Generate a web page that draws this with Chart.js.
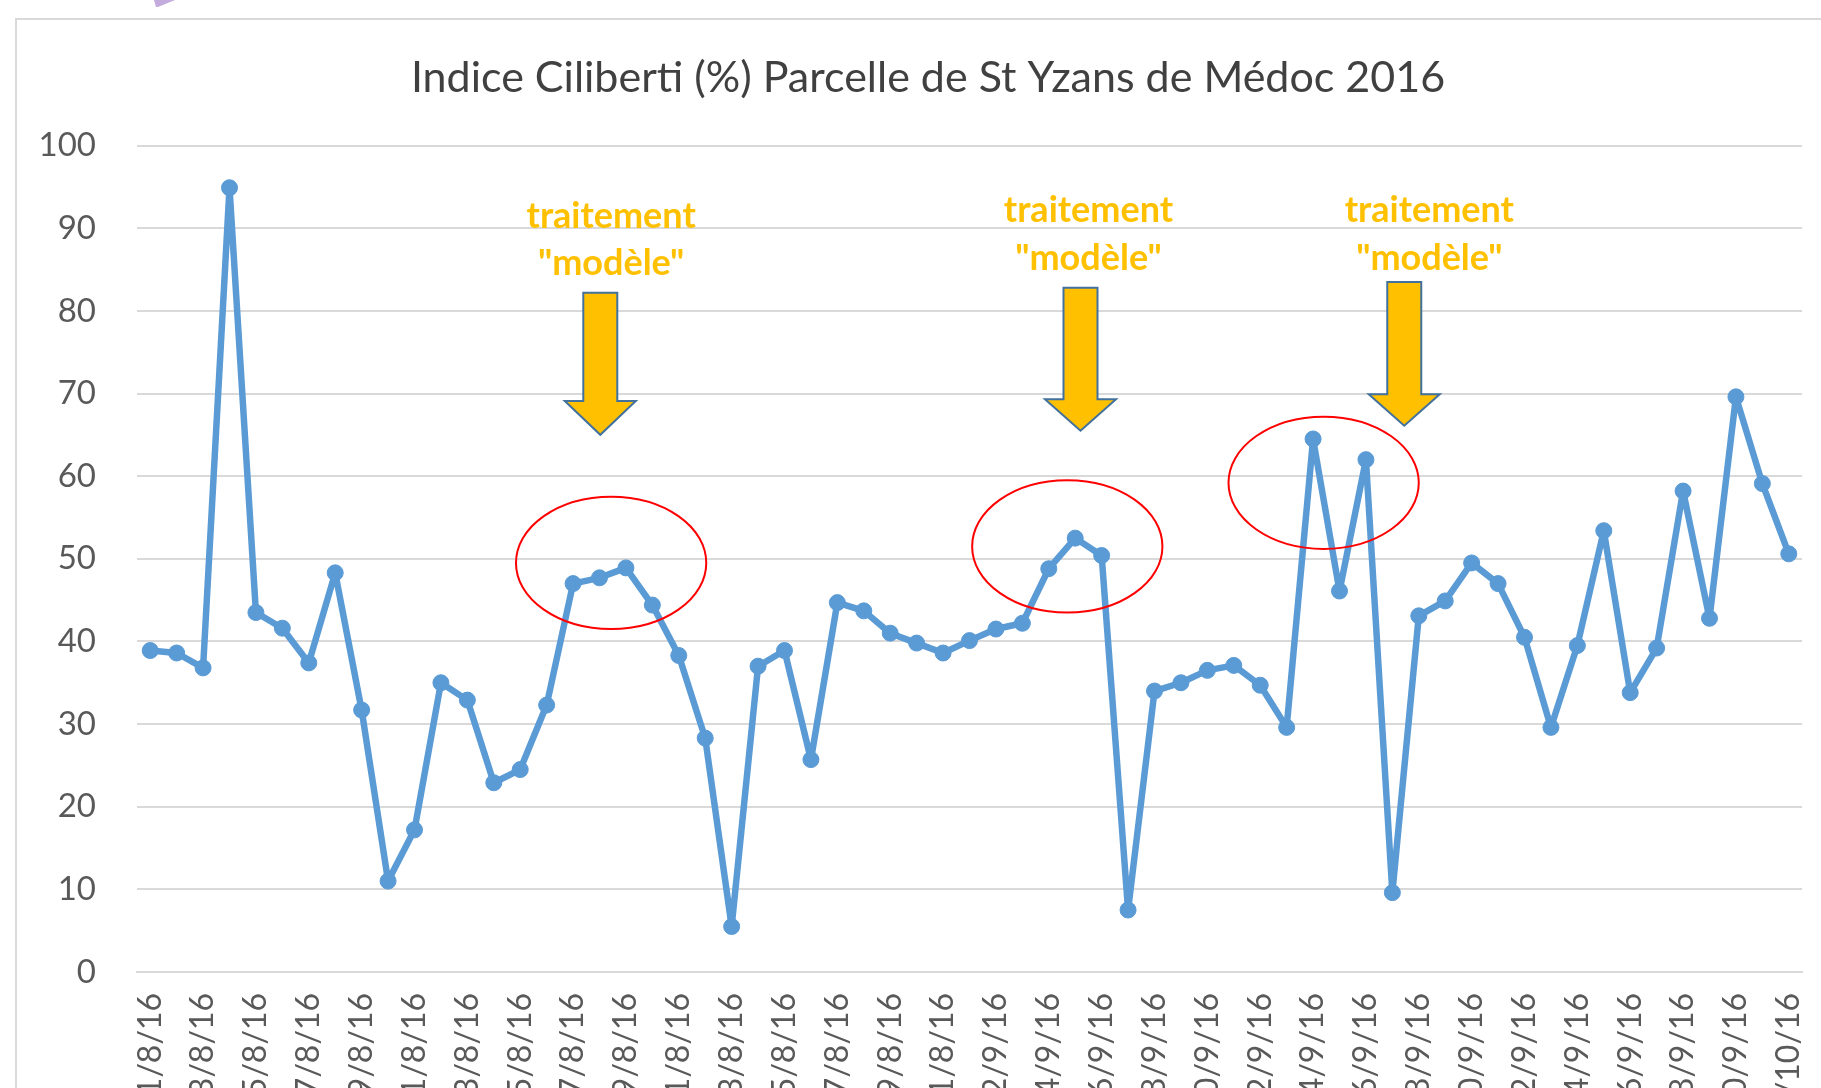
<!DOCTYPE html>
<html>
<head>
<meta charset="utf-8">
<script src="https://cdn.jsdelivr.net/npm/chart.js@4.4.1/dist/chart.umd.min.js"></script>
<style>
  html, body { margin: 0; padding: 0; background: #ffffff; overflow: hidden; }
  #wrap { position: relative; width: 1821px; height: 1088px; }
  canvas { display: block; }
</style>
</head>
<body>
<div id="wrap"><canvas id="c" width="1821" height="1088"></canvas></div>
<script>
// ---- data ----
const title = 'Indice Ciliberti (%) Parcelle de St Yzans de Médoc 2016';
const dates = [
  '1/8/16','2/8/16','3/8/16','4/8/16','5/8/16','6/8/16','7/8/16','8/8/16','9/8/16','10/8/16',
  '11/8/16','12/8/16','13/8/16','14/8/16','15/8/16','16/8/16','17/8/16','18/8/16','19/8/16','20/8/16',
  '21/8/16','22/8/16','23/8/16','24/8/16','25/8/16','26/8/16','27/8/16','28/8/16','29/8/16','30/8/16',
  '31/8/16','1/9/16','2/9/16','3/9/16','4/9/16','5/9/16','6/9/16','7/9/16','8/9/16','9/9/16',
  '10/9/16','11/9/16','12/9/16','13/9/16','14/9/16','15/9/16','16/9/16','17/9/16','18/9/16','19/9/16',
  '20/9/16','21/9/16','22/9/16','23/9/16','24/9/16','25/9/16','26/9/16','27/9/16','28/9/16','29/9/16',
  '30/9/16','1/10/16','2/10/16'
];
const indice = [
  38.9, 38.6, 36.8, 94.9, 43.5, 41.6, 37.4, 48.3, 31.7, 11.0,
  17.2, 35.0, 32.9, 22.9, 24.5, 32.3, 47.0, 47.7, 48.9, 44.4,
  38.3, 28.3, 5.5, 37.0, 38.9, 25.7, 44.7, 43.7, 41.0, 39.8,
  38.6, 40.1, 41.5, 42.2, 48.8, 52.5, 50.4, 7.5, 34.0, 35.0,
  36.5, 37.1, 34.7, 29.6, 64.5, 46.1, 62.0, 9.6, 43.1, 44.9,
  49.5, 47.0, 40.5, 29.6, 39.5, 53.4, 33.8, 39.2, 58.2, 42.8,
  69.6, 59.1, 50.6
];
const yTicks = [0, 10, 20, 30, 40, 50, 60, 70, 80, 90, 100];

// annotations (in data units: category index, value)
const noteLines = ['traitement', '"modèle"'];
const noteX = [17.44, 35.5, 48.4];
const noteY = [90.0, 90.7, 90.7];
const noteY2 = [84.3, 85.0, 85.0];
const arrowX = [17.03, 35.2, 47.45];
const arrowTop = [82.2, 82.8, 83.5];
const arrowHead = [69.1, 69.3, 69.9];
const arrowTip = [65.0, 65.5, 66.1];
const ellX = [17.44, 34.7, 44.4];
const ellY = [49.5, 51.5, 59.2];
const ellRX = [3.6, 3.6, 3.6];   // in category units
const ellRY = [8.0, 8.0, 8.0];   // in value units

const FONT = 'Lato, "Open Sans", sans-serif';

const decor = {
  id: 'decor',
  afterLayout(chart) {
    const tb = chart.titleBlock;
    if (tb) { tb.left += 27; tb.right += 27; }
  },
  beforeDraw(chart) {
    const ctx = chart.ctx;
    ctx.save();
    ctx.fillStyle = '#ffffff';
    ctx.fillRect(0, 0, chart.width, chart.height);
    ctx.strokeStyle = '#d9d9d9';
    ctx.lineWidth = 2;
    ctx.strokeRect(16, 19, 2000, 2000);
    ctx.fillStyle = '#c3abdd';
    ctx.beginPath();
    ctx.moveTo(154, 0); ctx.lineTo(175, 0); ctx.lineTo(158, 7); ctx.lineTo(156, 7);
    ctx.closePath(); ctx.fill();
    ctx.restore();
  },
  afterDatasetsDraw(chart) {
    const ctx = chart.ctx;
    const xs = chart.scales.x, ys = chart.scales.y;
    const unitX = xs.getPixelForValue(1) - xs.getPixelForValue(0);
    const unitY = ys.getPixelForValue(0) - ys.getPixelForValue(1);
    ctx.save();
    // ellipses
    ctx.strokeStyle = '#ff0000';
    ctx.lineWidth = 2;
    for (let i = 0; i < ellX.length; i++) {
      ctx.beginPath();
      ctx.ellipse(xs.getPixelForValue(ellX[i]), ys.getPixelForValue(ellY[i]),
        ellRX[i] * unitX, ellRY[i] * unitY, 0, 0, Math.PI * 2);
      ctx.stroke();
    }
    // arrows
    const shaft = 17, head = 35.5;
    for (let i = 0; i < arrowX.length; i++) {
      const cx = xs.getPixelForValue(arrowX[i]);
      const t = ys.getPixelForValue(arrowTop[i]);
      const h = ys.getPixelForValue(arrowHead[i]);
      const tip = ys.getPixelForValue(arrowTip[i]);
      ctx.beginPath();
      ctx.moveTo(cx - shaft, t);
      ctx.lineTo(cx + shaft, t);
      ctx.lineTo(cx + shaft, h);
      ctx.lineTo(cx + head, h);
      ctx.lineTo(cx, tip);
      ctx.lineTo(cx - head, h);
      ctx.lineTo(cx - shaft, h);
      ctx.closePath();
      ctx.fillStyle = '#ffc000';
      ctx.fill();
      ctx.strokeStyle = '#41719c';
      ctx.lineWidth = 2;
      ctx.stroke();
    }
    // labels
    ctx.fillStyle = '#ffc000';
    ctx.font = 'bold 36px ' + FONT;
    ctx.textAlign = 'center';
    ctx.textBaseline = 'alphabetic';
    for (let i = 0; i < noteX.length; i++) {
      const x = xs.getPixelForValue(noteX[i]);
      ctx.fillText(noteLines[0], x, ys.getPixelForValue(noteY[i]));
      ctx.fillText(noteLines[1], x, ys.getPixelForValue(noteY2[i]));
    }
    ctx.restore();
  }
};

new Chart(document.getElementById('c'), {
  type: 'line',
  data: {
    labels: dates,
    datasets: [{
      data: indice,
      borderColor: '#5b9bd5',
      backgroundColor: '#5b9bd5',
      pointBackgroundColor: '#5b9bd5',
      pointBorderColor: '#5b9bd5',
      borderWidth: 6.5,
      borderJoinStyle: 'round',
      borderCapStyle: 'round',
      pointRadius: 8,
      pointBorderWidth: 1,
      tension: 0,
      fill: false
    }]
  },
  options: {
    responsive: false,
    animation: false,
    devicePixelRatio: 1,
    layout: { autoPadding: false, padding: { left: 0, right: 19, top: 0, bottom: 0 } },
    plugins: {
      legend: { display: false },
      tooltip: { enabled: false },
      title: {
        display: true,
        text: title,
        color: '#404040',
        font: { family: FONT, size: 43, weight: 'normal', lineHeight: 1.2 },
        padding: { top: 52, bottom: 42 }
      }
    },
    scales: {
      x: {
        offset: true,
        grid: { display: false, drawTicks: false },
        border: { display: true, color: '#d9d9d9', width: 2 },
        afterFit(scale) {
          scale.height = 116;
          scale.paddingLeft = 0;
          scale.paddingRight = 0;
        },
        ticks: {
          autoSkip: false,
          maxRotation: 90,
          minRotation: 90,
          padding: 21,
          color: '#595959',
          font: { family: FONT, size: 32 },
          callback(v, i) { return i % 2 === 0 ? dates[i] : ''; }
        }
      },
      y: {
        min: 0,
        max: 100,
        afterBuildTicks(scale) { scale.ticks = yTicks.map(v => ({ value: v })); },
        afterFit(scale) { scale.width = 137; },
        grid: { color: '#d9d9d9', lineWidth: 2, drawTicks: false },
        border: { display: false },
        ticks: {
          padding: 41,
          color: '#595959',
          font: { family: FONT, size: 33 }
        }
      }
    }
  },
  plugins: [decor]
});
</script>
</body>
</html>
